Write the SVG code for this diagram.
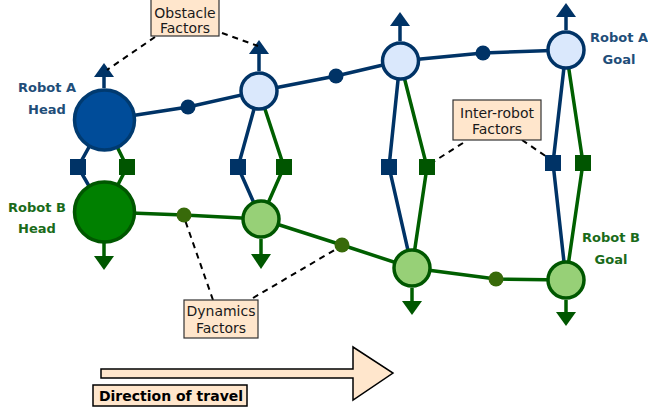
<svg xmlns="http://www.w3.org/2000/svg" width="648" height="411" viewBox="0 0 648 411">
<style>
  .la{stroke:#003366;stroke-width:3.5;fill:none}
  .lb{stroke:#005f00;stroke-width:3.5;fill:none}
  .dash{stroke:#000;stroke-width:2;stroke-dasharray:6,5;fill:none}
  .na{fill:#dae8fc;stroke:#003366;stroke-width:3.5}
  .nb{fill:#97d077;stroke:#005700;stroke-width:3.5}
  .fa{fill:#003366}
  .fb{fill:#386a0a}
  .sa{fill:#003366}
  .sb{fill:#005500}
  .ta{fill:#003366}
  .tb{fill:#005700}
  .lbl{font-family:"DejaVu Sans",Verdana,sans-serif;font-size:13px;font-weight:bold;text-anchor:middle}
  .box{fill:#ffe6cc;stroke:#333;stroke-width:1.2}
  .bt{font-family:"DejaVu Sans",Verdana,sans-serif;font-size:14px;fill:#1a1a1a;text-anchor:middle}
</style>
<rect width="648" height="411" fill="#fff"/>
<g id="connectors">
  <polyline class="la" points="104,120 188,107 259,91 336,76 400,61 483,53 566,50"/>
  <polyline class="lb" points="104,212 184,215 261,219 342,245 412,268 496,279 566,280"/>
  <polyline class="la" points="104,120 78,167 104,212"/>
  <polyline class="lb" points="104,120 127,167 104,212"/>
  <polyline class="la" points="259,91 238,167 261,219"/>
  <polyline class="lb" points="259,91 284,167 261,219"/>
  <polyline class="la" points="400,61 389,167 412,268"/>
  <polyline class="lb" points="400,61 427,167 412,268"/>
  <polyline class="la" points="566,50 553,163 566,280"/>
  <polyline class="lb" points="566,50 583,163 566,280"/>
  <line class="la" x1="104" y1="88" x2="104" y2="74"/>
  <polygon class="ta" points="104,63 114,77 94,77"/>
  <line class="la" x1="259" y1="71" x2="259" y2="51"/>
  <polygon class="ta" points="259,40 269,54 249,54"/>
  <line class="la" x1="400" y1="41" x2="400" y2="23"/>
  <polygon class="ta" points="400,12 410,26 390,26"/>
  <line class="la" x1="566" y1="30" x2="566" y2="14"/>
  <polygon class="ta" points="566,3 576,17 556,17"/>
  <line class="lb" x1="104" y1="243" x2="104" y2="259"/>
  <polygon class="tb" points="104,270 114,256 94,256"/>
  <line class="lb" x1="261" y1="239" x2="261" y2="257"/>
  <polygon class="tb" points="261,269 271,254 251,254"/>
  <line class="lb" x1="412" y1="288" x2="412" y2="304"/>
  <polygon class="tb" points="412,315 422,301 402,301"/>
  <line class="lb" x1="566" y1="300" x2="566" y2="315"/>
  <polygon class="tb" points="566,326 576,312 556,312"/>
  <line class="dash" x1="155" y1="37" x2="107" y2="70"/>
  <line class="dash" x1="222" y1="33" x2="258" y2="46"/>
  <line class="dash" x1="463" y1="143" x2="433" y2="162"/>
  <line class="dash" x1="522" y1="140" x2="547" y2="157"/>
  <line class="dash" x1="213" y1="300" x2="185" y2="220"/>
  <line class="dash" x1="253" y1="298" x2="338" y2="248"/>
</g>
<g id="factorsA">
  <circle class="fa" cx="188" cy="107" r="7.5"/>
  <circle class="fa" cx="336" cy="76" r="7.5"/>
  <circle class="fa" cx="483" cy="53" r="7.5"/>
</g>
<g id="factorsB">
  <circle class="fb" cx="184" cy="215" r="7.5"/>
  <circle class="fb" cx="342" cy="245" r="7.5"/>
  <circle class="fb" cx="496" cy="279" r="7.5"/>
</g>
<g id="interrobot">
  <rect class="sa" x="70" y="159" width="16" height="16"/>
  <rect class="sb" x="119" y="159" width="16" height="16"/>
  <rect class="sa" x="230" y="159" width="16" height="16"/>
  <rect class="sb" x="276" y="159" width="16" height="16"/>
  <rect class="sa" x="381" y="159" width="16" height="16"/>
  <rect class="sb" x="419" y="159" width="16" height="16"/>
  <rect class="sa" x="545" y="155" width="16" height="16"/>
  <rect class="sb" x="575" y="155" width="16" height="16"/>
</g>
<g id="robotA-head"><circle cx="104.5" cy="120" r="30" fill="#004c99" stroke="#003a70" stroke-width="3.5"/></g>
<g id="robotA-2"><circle class="na" cx="259" cy="91" r="18"/></g>
<g id="robotA-3"><circle class="na" cx="400.5" cy="61" r="18"/></g>
<g id="robotA-goal"><circle class="na" cx="566" cy="50" r="18"/></g>
<g id="robotB-head"><circle cx="104.5" cy="212" r="30" fill="#008000" stroke="#005700" stroke-width="3.5"/></g>
<g id="robotB-2"><circle class="nb" cx="261" cy="219" r="18"/></g>
<g id="robotB-3"><circle class="nb" cx="412" cy="268" r="18"/></g>
<g id="robotB-goal"><circle class="nb" cx="566" cy="280" r="18"/></g>
<g id="labels">
  <text class="lbl" fill="#1f4e79" x="47" y="92">Robot A</text>
  <text class="lbl" fill="#1f4e79" x="47" y="114">Head</text>
  <text class="lbl" fill="#1a6b1a" x="37" y="212">Robot B</text>
  <text class="lbl" fill="#1a6b1a" x="37" y="233">Head</text>
  <text class="lbl" fill="#1f4e79" x="619" y="42">Robot A</text>
  <text class="lbl" fill="#1f4e79" x="619" y="64">Goal</text>
  <text class="lbl" fill="#1a6b1a" x="611" y="242">Robot B</text>
  <text class="lbl" fill="#1a6b1a" x="611" y="264">Goal</text>
</g>
<g id="obstacle-label">
  <rect class="box" x="151" y="-1" width="68" height="37"/>
  <text class="bt" x="185" y="18">Obstacle</text>
  <text class="bt" x="185" y="33">Factors</text>
</g>
<g id="interrobot-label">
  <rect class="box" x="453" y="100" width="88" height="40"/>
  <text class="bt" x="497" y="118">Inter-robot</text>
  <text class="bt" x="497" y="134">Factors</text>
</g>
<g id="dynamics-label">
  <rect class="box" x="184" y="300" width="74" height="38"/>
  <text class="bt" x="221" y="316">Dynamics</text>
  <text class="bt" x="221" y="333">Factors</text>
</g>
<g id="direction">
  <polygon points="101,369 353,369 353,347 393,373 353,400 353,378 101,378" fill="#ffe6cc" stroke="#000" stroke-width="1.5"/>
  <rect x="93" y="385" width="154" height="21" fill="#ffe6cc" stroke="#000" stroke-width="1.5"/>
  <text x="171" y="401" font-family="DejaVu Sans,Verdana,sans-serif" font-size="14" font-weight="bold" text-anchor="middle" fill="#000">Direction of travel</text>
</g>
</svg>
